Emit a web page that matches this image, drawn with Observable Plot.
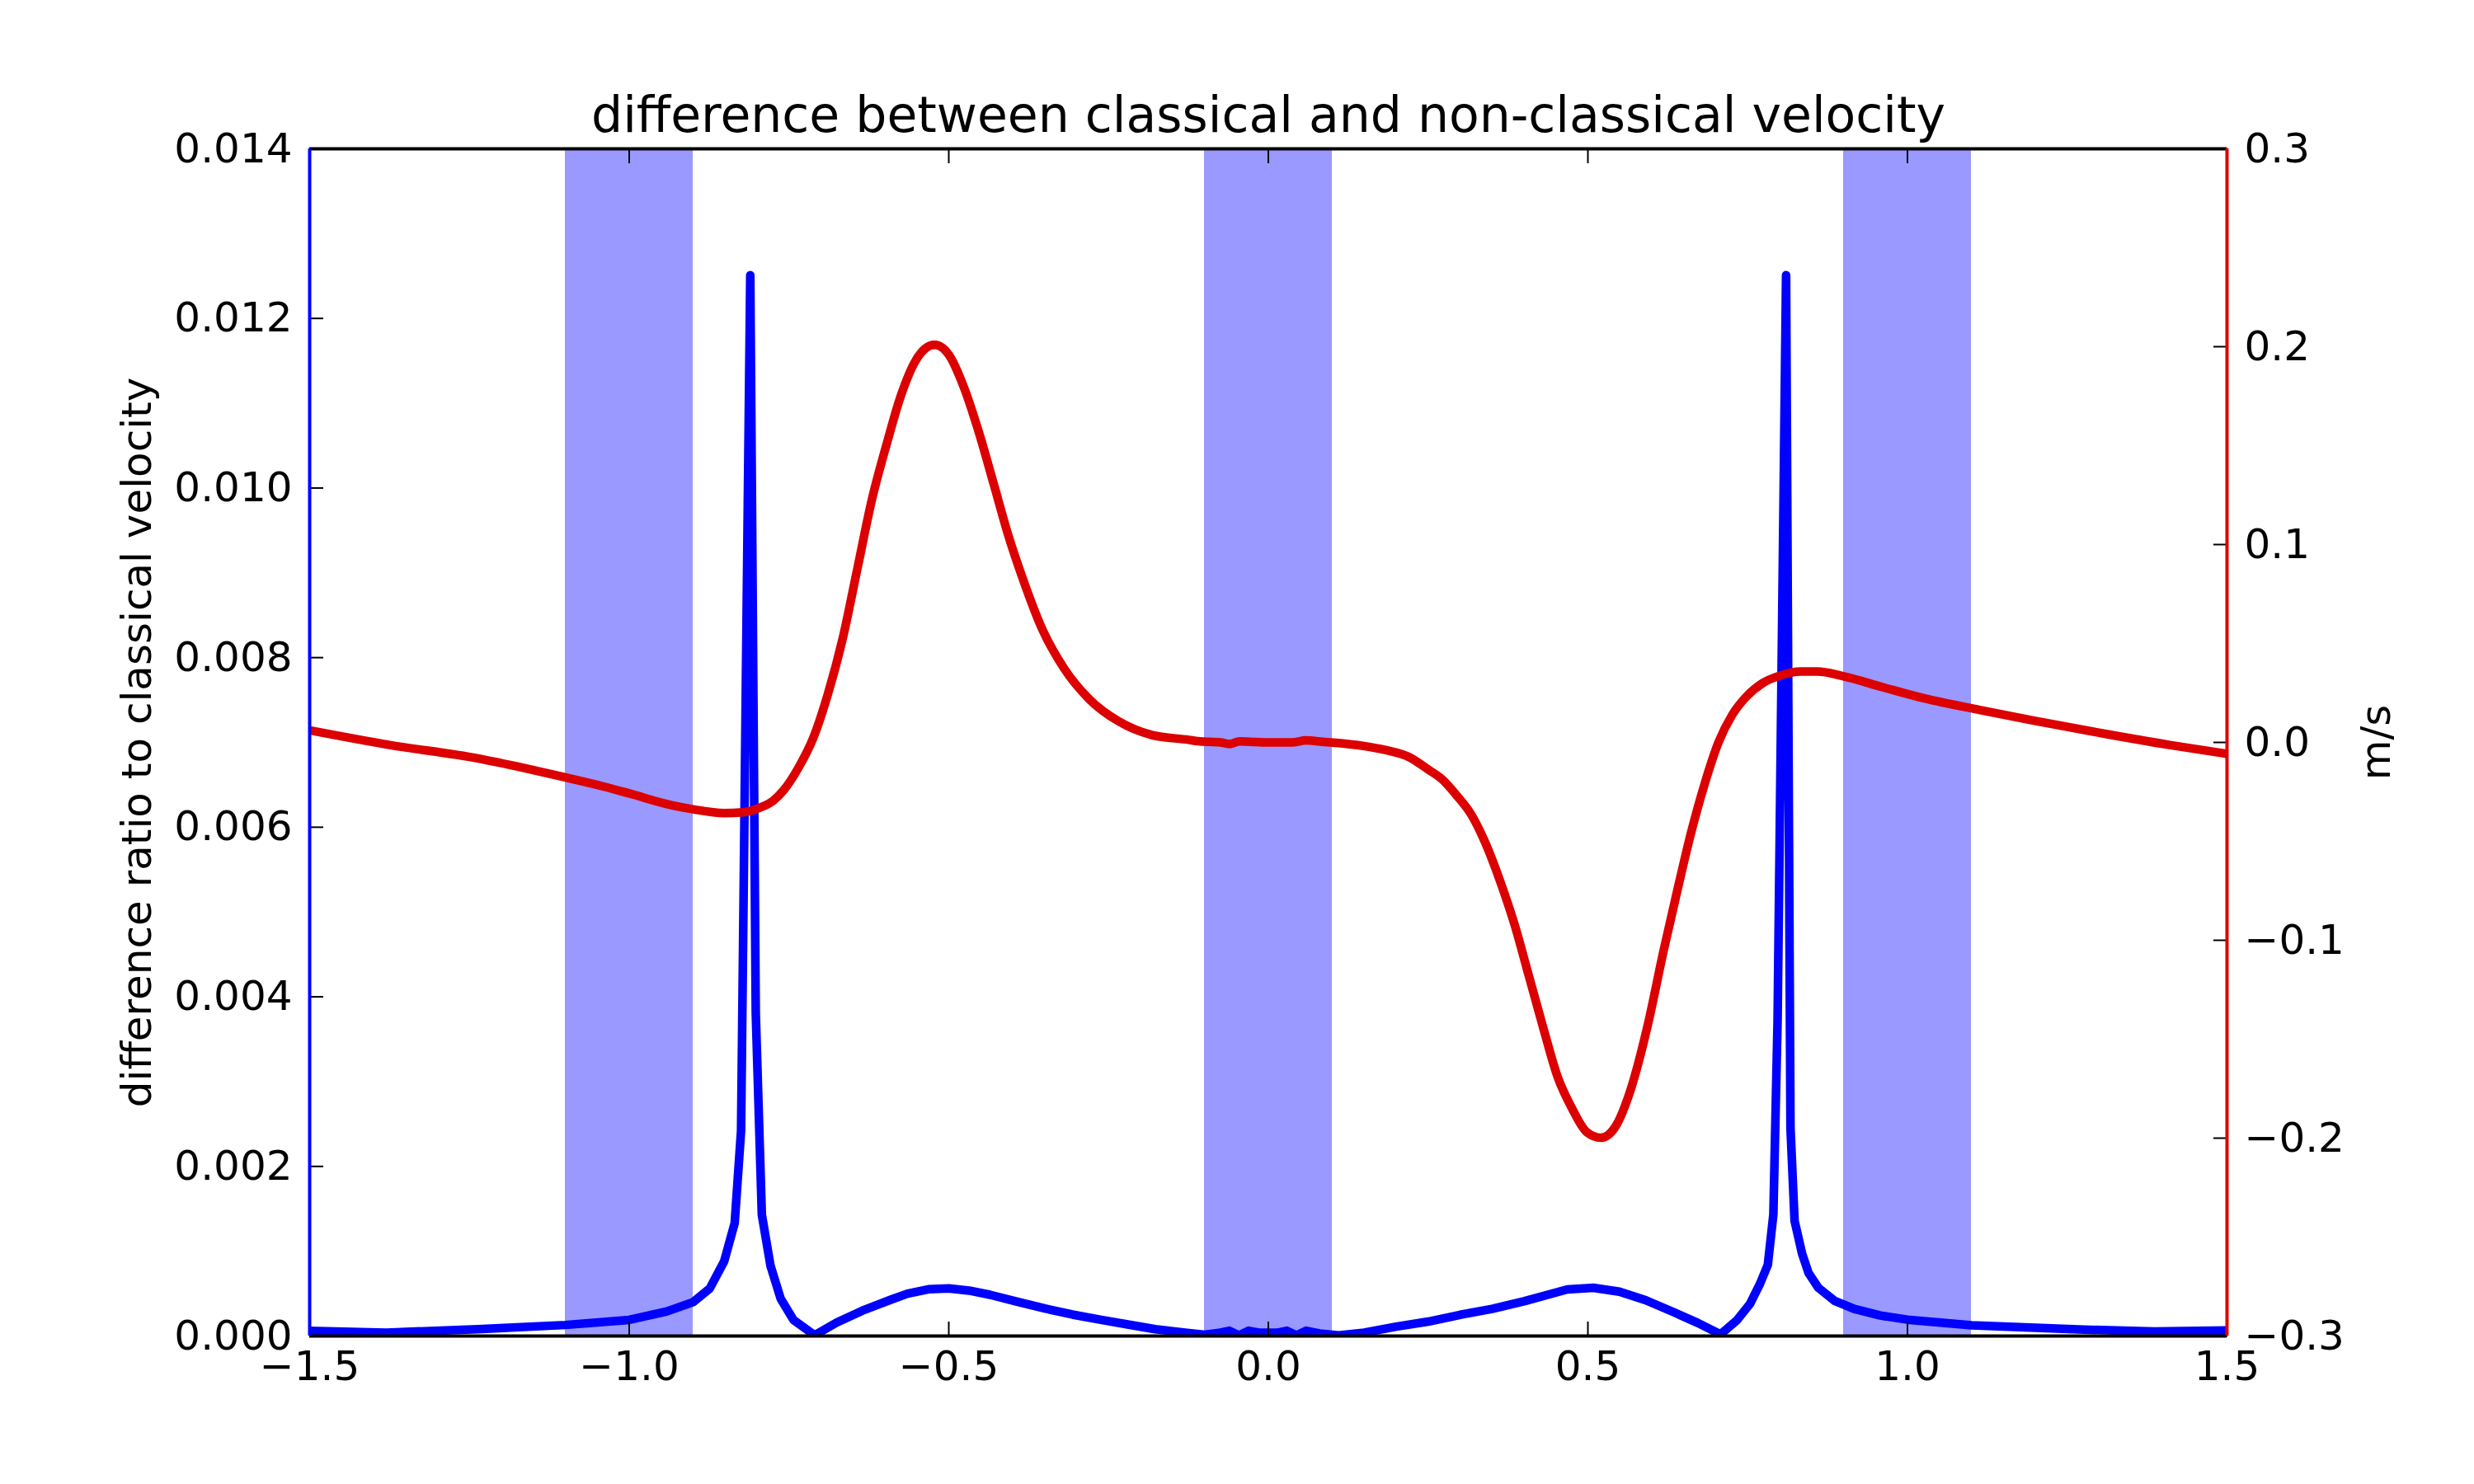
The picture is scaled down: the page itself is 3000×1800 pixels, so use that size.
<!DOCTYPE html>
<html>
<head>
<meta charset="utf-8">
<script src="https://cdn.jsdelivr.net/npm/d3@7"></script>
<script src="https://cdn.jsdelivr.net/npm/@observablehq/plot@0.6"></script>
<style>
  html, body { margin: 0; padding: 0; background: #ffffff; }
  #chart { width: 3000px; height: 1800px; }
</style>
</head>
<body>
<div id="chart"></div>
<script>
// ---- data ----
const blueX = [-1.5, -1.38, -1.237, -1.1, -1.0, -0.941, -0.9, -0.874, -0.8515, -0.835, -0.825, -0.8106, -0.802, -0.7925, -0.779, -0.763, -0.743, -0.71, -0.675, -0.635, -0.59, -0.5645, -0.532, -0.5, -0.468, -0.4355, -0.393, -0.3495, -0.3065, -0.2635, -0.22, -0.177, -0.13, -0.1, -0.075, -0.061, -0.046, -0.031, -0.015, 0.0, 0.015, 0.029, 0.044, 0.059, 0.08, 0.11, 0.15, 0.2, 0.25, 0.3, 0.35, 0.4, 0.4677, 0.5085, 0.5494, 0.5902, 0.631, 0.6719, 0.7075, 0.733, 0.7534, 0.7688, 0.7815, 0.7902, 0.7968, 0.8101, 0.817, 0.8234, 0.8351, 0.8453, 0.8606, 0.8861, 0.9168, 0.9576, 1.0, 1.1004, 1.2677, 1.3865, 1.5];
const blueY = [0.00006, 0.00004, 0.00008, 0.00013, 0.00019, 0.00029, 0.0004, 0.00056, 0.00088, 0.00133, 0.00242, 0.01251, 0.00381, 0.00143, 0.00083, 0.00044, 0.00019, 0.00001, 0.00016, 0.0003, 0.00043, 0.0005, 0.000551, 0.000561, 0.000535, 0.000486, 0.000405, 0.000324, 0.000253, 0.000194, 0.000136, 0.00008, 0.00004, 0.000014, 0.00004, 0.000062, 0.000007, 0.000062, 0.00004, 0.00004, 0.00004, 0.000062, 0.000007, 0.000062, 0.00003, 0.000007, 0.00004, 0.00011, 0.00017, 0.00025, 0.00032, 0.00041, 0.000549, 0.000569, 0.000523, 0.000423, 0.000292, 0.000154, 0.00002, 0.000185, 0.000376, 0.000608, 0.000838, 0.001434, 0.00372, 0.01251, 0.00245, 0.001357, 0.000972, 0.000742, 0.000569, 0.000415, 0.000319, 0.000242, 0.000193, 0.000126, 0.000077, 0.000053, 0.000065];

const redX = [-1.5, -1.375, -1.237, -1.164, -1.1, -1.039, -1.0, -0.934, -0.9, -0.8515, -0.822, -0.7955, -0.775, -0.758, -0.735, -0.712, -0.689, -0.666, -0.643, -0.62, -0.597, -0.575, -0.552, -0.537, -0.5226, -0.51, -0.4995, -0.4758, -0.4528, -0.4297, -0.4067, -0.3836, -0.3548, -0.32, -0.28, -0.2339, -0.182, -0.1245, -0.11, -0.075, -0.0609, -0.045, -0.02, 0.0, 0.0364, 0.0591, 0.0817, 0.1495, 0.1813, 0.222, 0.2492, 0.2718, 0.2944, 0.317, 0.3396, 0.3623, 0.3849, 0.4076, 0.4302, 0.4528, 0.4755, 0.4981, 0.5206, 0.5434, 0.5659, 0.5925, 0.6183, 0.6398, 0.6613, 0.6828, 0.7043, 0.7258, 0.7473, 0.7731, 0.7989, 0.8333, 0.8591, 0.8978, 0.9624, 1.0269, 1.1129, 1.1963, 1.3032, 1.4102, 1.5];
const redY = [0.0061, -0.0013, -0.0081, -0.013, -0.0177, -0.0224, -0.0258, -0.0317, -0.0338, -0.0357, -0.0353, -0.033, -0.0295, -0.024, -0.0127, 0.0023, 0.0246, 0.0525, 0.0878, 0.1231, 0.151, 0.1752, 0.1929, 0.199, 0.2009, 0.1995, 0.1957, 0.179, 0.1566, 0.1306, 0.1045, 0.0822, 0.058, 0.0376, 0.0218, 0.0106, 0.0037, 0.0013, 0.0006, 0.0, -0.0008, 0.0005, 0.0002, 0.0, 0.0, 0.001, 0.0004, -0.0018, -0.0037, -0.0077, -0.0135, -0.0186, -0.0267, -0.0362, -0.0508, -0.0698, -0.0917, -0.118, -0.1443, -0.1692, -0.1852, -0.1969, -0.1998, -0.194, -0.1765, -0.1445, -0.1055, -0.075, -0.0458, -0.0208, 0.0, 0.0139, 0.0229, 0.0299, 0.0336, 0.0358, 0.0358, 0.0336, 0.0278, 0.0222, 0.0164, 0.0111, 0.0047, -0.0013, -0.0058];

const bandStart = [-1.1, -0.1, 0.9];
const bandEnd = [-0.9, 0.1, 1.1];

const xTicks = [-1.5, -1.0, -0.5, 0.0, 0.5, 1.0, 1.5];
const xTickLabels = ["\u22121.5", "\u22121.0", "\u22120.5", "0.0", "0.5", "1.0", "1.5"];
const leftTicks = [0, 0.002, 0.004, 0.006, 0.008, 0.010, 0.012, 0.014];
const leftTickLabels = ["0.000", "0.002", "0.004", "0.006", "0.008", "0.010", "0.012", "0.014"];
const rightTicks = [-0.3, -0.2, -0.1, 0.0, 0.1, 0.2, 0.3];
const rightTickLabels = ["\u22120.3", "\u22120.2", "\u22120.1", "0.0", "0.1", "0.2", "0.3"];

const titleText = "difference between classical and non-classical velocity";
const leftLabel = "difference ratio to classical velocity";
const rightLabel = "m/s";

const xDomain = [-1.5, 1.5];
const leftDomain = [0, 0.014];
const rightDomain = [-0.3, 0.3];

// ---- build tables ----
const blue = blueX.map((x, i) => ({x, v: blueY[i]}));
const red = redX.map((x, i) => ({x, v: redY[i]}));
const bands = bandStart.map((s, i) => ({start: s, end: bandEnd[i]}));

// right (twin) axis expressed in the left scale's domain
const toLeft = v => leftDomain[0] + (v - rightDomain[0]) / (rightDomain[1] - rightDomain[0]) * (leftDomain[1] - leftDomain[0]);
const rightTickPos = rightTicks.map(toLeft);

const xLabelMap = new Map(xTicks.map((t, i) => [t, xTickLabels[i]]));
const leftLabelMap = new Map(leftTicks.map((t, i) => [t, leftTickLabels[i]]));
const rightLabelMap = new Map(rightTickPos.map((t, i) => [t, rightTickLabels[i]]));

const BLUE = "#0000ff";
const RED = "#dd0000";
const BAND = "#9999ff";
const TICK = 17;

const chart = Plot.plot({
  width: 3000,
  height: 1800,
  marginLeft: 375,
  marginRight: 300,
  marginTop: 180,
  marginBottom: 180,
  x: {domain: xDomain},
  y: {domain: leftDomain},
  style: {fontFamily: "DejaVu Sans", fontSize: "50px", background: "#ffffff", color: "#000000"},
  marks: [
    Plot.rect(bands, {x1: "start", x2: "end", fill: BAND}),
    Plot.line(blue, {x: "x", y: "v", stroke: BLUE, strokeWidth: 10.5, clip: true}),
    Plot.line(red, {x: "x", y: d => toLeft(d.v), stroke: RED, strokeWidth: 10.5, curve: "monotone-x", clip: true}),
    // axes (inward ticks)
    Plot.axisX(xTicks, {anchor: "bottom", tickSize: -TICK, tickPadding: 35, strokeWidth: 2, stroke: "#000", fill: "#000", fontSize: 50, tickFormat: d => xLabelMap.get(d), label: null}),
    Plot.axisX(xTicks, {anchor: "top", tickSize: -TICK, strokeWidth: 2, stroke: "#000", fill: "none", label: null}),
    Plot.axisY(leftTicks, {anchor: "left", tickSize: -TICK, tickPadding: 38, strokeWidth: 2, stroke: "#000", fill: "#000", fontSize: 50, tickFormat: d => leftLabelMap.get(d), label: null}),
    Plot.axisY(rightTickPos, {anchor: "right", tickSize: -TICK, tickPadding: 38, strokeWidth: 2, stroke: "#000", fill: "#000", fontSize: 50, tickFormat: d => rightLabelMap.get(d), label: null}),
    // spines
    Plot.ruleY([leftDomain[0]], {stroke: "#000", strokeWidth: 4}),
    Plot.ruleY([leftDomain[1]], {stroke: "#000", strokeWidth: 4}),
    Plot.ruleX([xDomain[0]], {stroke: BLUE, strokeWidth: 4}),
    Plot.ruleX([xDomain[1]], {stroke: RED, strokeWidth: 4}),
    // texts
    Plot.text([titleText], {text: d => d, frameAnchor: "top", textAnchor: "middle", dy: -21, lineAnchor: "bottom", fontSize: 60, fill: "#000"}),
    Plot.text([leftLabel], {text: d => d, frameAnchor: "left", textAnchor: "middle", dx: -193, rotate: -90, lineAnchor: "bottom", fontSize: 50, fill: "#000"}),
    Plot.text([rightLabel], {text: d => d, frameAnchor: "right", textAnchor: "middle", dx: 197, rotate: -90, lineAnchor: "bottom", fontSize: 50, fill: "#000"})
  ]
});

document.getElementById("chart").appendChild(chart);
</script>
</body>
</html>
